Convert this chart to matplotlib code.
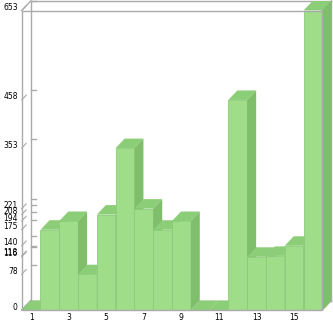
import matplotlib
matplotlib.use('Agg')
import matplotlib.pyplot as plt
from matplotlib.patches import Polygon, Rectangle
from matplotlib.lines import Line2D
import matplotlib.transforms as mtransforms

categories = list(range(1, 17))
values = [0, 175, 194, 78, 208, 353, 221, 175, 194, 0, 0, 458, 116, 118, 140, 653]
y_tick_values = sorted(set(values))
x_label_cats = [c for c in categories if c % 2 == 1]
y_max = 653

W, H = 333, 321
fig = plt.figure(figsize=(W / 100, H / 100), dpi=100)
left_px, right_px, top_px, bottom_px = 21.7, 322.3, 10.5, 310.0
ax = fig.add_axes([left_px / W, (H - bottom_px) / H,
                   (right_px - left_px) / W, (bottom_px - top_px) / H])
ax.set_xlim(0.5, len(categories) + 0.5)
ax.set_ylim(0, y_max)
ax.axis('off')

# depth offset in pixels -> data units
DX, DY = 9.0, 9.5
px_per_x = (right_px - left_px) / len(categories)
px_per_y = (bottom_px - top_px) / y_max
dxd = DX / px_per_x
dyd = DY / px_per_y

gray = '#aaaaaa'
front_c = '#9fdd89'
top_c = '#8ccd77'
side_c = '#7fbe6b'
edge_c = '#8dcc79'

x0, x1 = 0.5, len(categories) + 0.5

# back frame (behind bars)
back_lines = [
    [(x0 + dxd, dyd), (x0 + dxd, y_max + dyd)],
    [(x0 + dxd, y_max + dyd), (x1 + dxd, y_max + dyd)],
    [(x1 + dxd, y_max + dyd), (x1 + dxd, dyd)],
    [(x0 + dxd, dyd), (x1 + dxd, dyd)],
    [(x0, y_max), (x0 + dxd, y_max + dyd)],
    [(x0, 0), (x0 + dxd, dyd)],
    [(x1, 0), (x1 + dxd, dyd)],
    [(x1, y_max), (x1 + dxd, y_max + dyd)],
]
for seg in back_lines:
    ax.add_line(Line2D([seg[0][0], seg[1][0]], [seg[0][1], seg[1][1]],
                       color=gray, lw=1.0, zorder=1, clip_on=False))

# ticks on the back wall and slanted ticks on the front side
for v in y_tick_values:
    ax.add_line(Line2D([x0 + dxd, x0 + dxd + 5 / px_per_x], [v + dyd, v + dyd],
                       color=gray, lw=1.0, zorder=1, clip_on=False))
    ax.add_line(Line2D([x0, x0 + dxd * 0.5], [v, v + dyd * 0.5],
                       color=gray, lw=0.8, zorder=1, clip_on=False))

# bars (painter's order left to right)
z = 2
for c, v in zip(categories, values):
    l, r = c - 0.5, c + 0.5
    ax.bar(c, v, width=1.0, bottom=0, color=front_c, edgecolor=edge_c,
           linewidth=0.6, zorder=z)
    ax.add_patch(Polygon([(l, v), (r, v), (r + dxd, v + dyd), (l + dxd, v + dyd)],
                         closed=True, facecolor=top_c, edgecolor='none',
                         zorder=z + 0.1, clip_on=False))
    if v > 0:
        ax.add_patch(Polygon([(r, 0), (r, v), (r + dxd, v + dyd), (r + dxd, dyd)],
                             closed=True, facecolor=side_c, edgecolor='none',
                             zorder=z + 0.2, clip_on=False))
    z += 1

# front frame on top
ax.add_patch(Rectangle((x0, 0), x1 - x0, y_max, fill=False, edgecolor=gray,
                       lw=1.0, zorder=100, clip_on=False))

# y tick labels
lab_tr = mtransforms.offset_copy(ax.transData, fig=fig, x=-4, y=3, units='dots')
for v in y_tick_values:
    ax.text(x0, v, str(v), transform=lab_tr, ha='right', va='center',
            fontsize=5.5, color='black', family='DejaVu Sans', clip_on=False)

# x labels
xl_tr = mtransforms.offset_copy(ax.transData, fig=fig, x=0, y=-7, units='dots')
for c in x_label_cats:
    ax.text(c, 0, str(c), transform=xl_tr, ha='center', va='center',
            fontsize=5.5, color='black', family='DejaVu Sans', clip_on=False)

fig.savefig('out.png', dpi=100)
